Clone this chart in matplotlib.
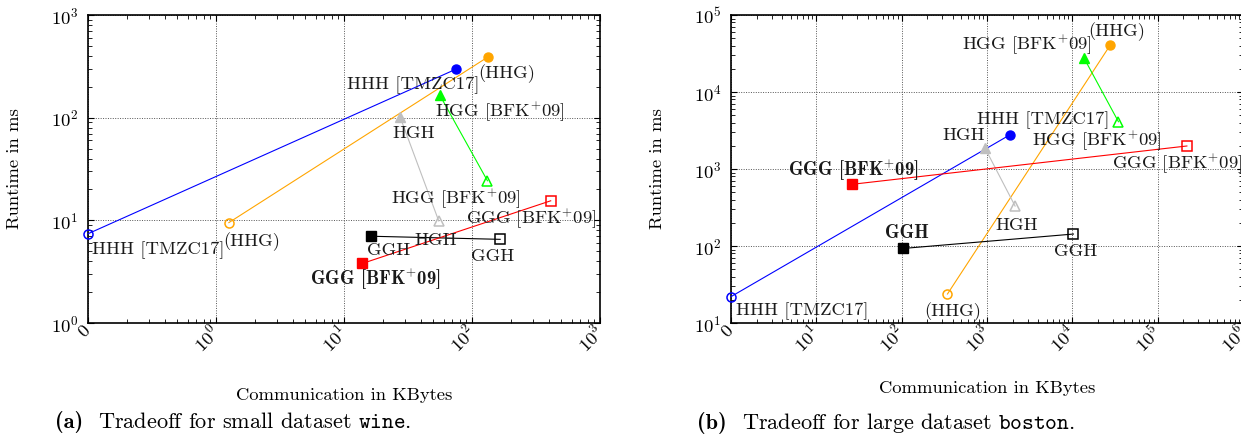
import matplotlib
matplotlib.use('Agg')
from matplotlib import pyplot as plt

plt.rcParams['font.family'] = 'serif'
plt.rcParams['font.serif'] = ['cmr10']
plt.rcParams['mathtext.fontset'] = 'cm'
plt.rcParams['axes.formatter.use_mathtext'] = True
plt.rcParams['font.size'] = 13.4

# protocol variants, one line per variant (open marker -> filled marker)
variants = ['HHH', 'HHG', 'HGG', 'HGH', 'GGH', 'GGG']
names = ['HHH [TMZC17]', '(HHG)', 'HGG [BFK$^{+}$09]', 'HGH', 'GGH', 'GGG [BFK$^{+}$09]']
bold_names = ['HHH [TMZC17]', '(HHG)', r'HGG [BFK$^{\mathbf{+}}$09]', 'HGH', 'GGH',
              r'GGG [BFK$^{\mathbf{+}}$09]']

# small dataset wine (KBytes, ms)
wine_comm_open = [0, 1.26, 132, 55, 166, 412]
wine_time_open = [7.4, 9.5, 24.3, 9.85, 6.53, 15.5]
wine_comm_filled = [74.6, 134, 56, 27.4, 16.3, 13.9]
wine_time_filled = [296, 392, 166, 102, 7.0, 3.8]
wine_bold_filled = [False, False, False, False, False, True]

# large dataset boston (KBytes, ms)
boston_comm_open = [0, 344, 34700, 2135, 10300, 220000]
boston_time_open = [22, 23.8, 4110, 330, 143, 1990]
boston_comm_filled = [1866, 27700, 13750, 950, 105, 26]
boston_time_filled = [2788, 40400, 27400, 1857, 93, 632]
boston_bold_filled = [False, False, False, False, True, True]

colors = ['#0000ff', '#ffa500', '#00ff00', '#bfbfbf', '#000000', '#ff0000']
markers = ['o', 'o', '^', '^', 's', 's']

# label offsets in pixels (open end, filled end)
wine_off_open = [(70, -16), (23, -19), (-31, -18), (-3, -19), (-8, -17), (-19, -18)]
wine_off_filled = [(-42, -16), (18, -17), (60, -17), (14, -17), (17, -14), (13, -16)]
boston_off_open = [(71, -15), (5, -18), (-21, -19), (2, -19), (2, -17), (-10, -18)]
boston_off_filled = [(33, 15), (7, 14), (-57, 13), (-21, 13), (3, 15), (2, 14)]


def draw_panel(ax, comm_open, time_open, comm_filled, time_filled, bold_filled,
               off_open, off_filled, xlim, ylim, xdecades):
    ax.set_xscale('log')
    ax.set_yscale('log')
    ax.set_xlim(*xlim)
    ax.set_ylim(*ylim)
    for i in range(len(variants)):
        x0 = comm_open[i] if comm_open[i] > 0 else xlim[0]
        x1 = comm_filled[i] if comm_filled[i] > 0 else xlim[0]
        ms = 7 if markers[i] == 's' else 6.5
        ax.plot([x0, x1], [time_open[i], time_filled[i]], color=colors[i],
                lw=0.8, zorder=3, clip_on=False)
        ax.plot([x0], [time_open[i]], marker=markers[i], ms=ms, mfc='none',
                mec=colors[i], mew=1.1, ls='none', zorder=4, clip_on=False)
        ax.plot([x1], [time_filled[i]], marker=markers[i], ms=ms, mfc=colors[i],
                mec=colors[i], ls='none', zorder=4, clip_on=False)
        ax.annotate(names[i], (x0, time_open[i]), xytext=off_open[i],
                    textcoords='offset pixels', ha='center', va='center',
                    color='#1a1a1a', zorder=5)
        if bold_filled[i]:
            ax.annotate(bold_names[i], (x1, time_filled[i]), xytext=off_filled[i],
                        textcoords='offset pixels', ha='center', va='center',
                        family='cmb10', color='#1a1a1a', zorder=5)
        else:
            ax.annotate(names[i], (x1, time_filled[i]), xytext=off_filled[i],
                        textcoords='offset pixels', ha='center', va='center',
                        color='#1a1a1a', zorder=5)

    ticks = [xlim[0] * 10 ** k for k in range(len(xdecades) + 1)]
    labels = ['0'] + ['$10^{%d}$' % d for d in xdecades]
    ax.set_xticks(ticks)
    ax.set_xticklabels(labels, rotation=45, ha='right', va='center',
                       rotation_mode='anchor')
    ax.grid(True, which='major', linestyle=(0, (1, 1.5)), color='#555555', lw=0.7)
    ax.tick_params(which='both', direction='in', top=True, right=True)
    ax.tick_params(which='major', length=4.2, width=0.8)
    ax.tick_params(which='minor', length=2.6, width=0.6)
    ax.tick_params(axis='y', pad=7)
    ax.tick_params(axis='x', pad=4)
    for s in ax.spines.values():
        s.set_linewidth(1.2)
    ax.set_axisbelow(True)
    ax.set_ylabel('Runtime in ms')
    ax.set_xlabel('Communication in KBytes')
    ax.yaxis.set_label_coords(-0.129, 0.5)


W, H = 1241, 438
fig = plt.figure(figsize=(W / 100, H / 100), dpi=100)

ax1 = fig.add_axes([88 / W, 1 - 323 / H, 512 / W, 308 / H])
draw_panel(ax1, wine_comm_open, wine_time_open, wine_comm_filled, wine_time_filled,
           wine_bold_filled, wine_off_open, wine_off_filled,
           (0.1, 1000), (1, 1000), [0, 1, 2, 3])
ax1.xaxis.set_label_coords(0.5, -0.21)

ax2 = fig.add_axes([731 / W, 1 - 323 / H, 512 / W, 308 / H])
draw_panel(ax2, boston_comm_open, boston_time_open, boston_comm_filled,
           boston_time_filled, boston_bold_filled, boston_off_open, boston_off_filled,
           (1, 1e6), (10, 1e5), [1, 2, 3, 4, 5, 6])
ax2.xaxis.set_label_coords(0.5, -0.187)

# captions
cap = 16
fig.text(55 / W, 1 - 422 / H, '(a)', family='cmb10', va='center', fontsize=cap)
fig.text(98 / W, 1 - 422 / H, r'Tradeoff for small dataset $\mathtt{wine}$.',
         va='center', fontsize=cap)
fig.text(697 / W, 1 - 423 / H, '(b)', family='cmb10', va='center', fontsize=cap)
fig.text(742 / W, 1 - 423 / H, r'Tradeoff for large dataset $\mathtt{boston}$.',
         va='center', fontsize=cap)

fig.savefig('out.png', dpi=100)
